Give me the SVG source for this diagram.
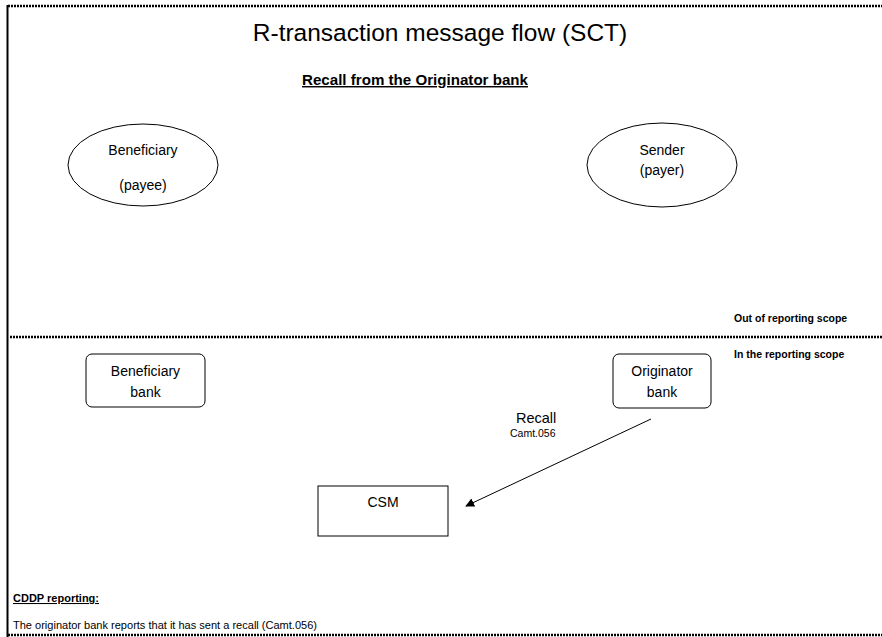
<svg xmlns="http://www.w3.org/2000/svg" width="882" height="637" viewBox="0 0 882 637">
<defs>
<style>
text{font-family:"Liberation Sans",Arial,sans-serif;fill:#000}
.node{fill:#fff;stroke:#000;stroke-width:1}
.lbl{font-size:14px;text-anchor:middle}
.small{font-size:10.5px;font-weight:bold}
.dot{stroke:#000;stroke-width:2.5;stroke-dasharray:2 1;fill:none}
</style>
<marker id="ah" viewBox="0 0 10 10" refX="9" refY="5" markerWidth="9" markerHeight="9" orient="auto" markerUnits="userSpaceOnUse">
<path d="M0,0 L10,5 L0,10 z" fill="#000"/>
</marker>
</defs>
<rect x="0" y="0" width="882" height="637" fill="#fff"/>
<g id="frame">
<line x1="7.5" y1="5" x2="7.5" y2="637" stroke="#000" stroke-width="2"/>
<line class="dot" x1="8" y1="6" x2="882" y2="6" stroke-width="2"/>
<line class="dot" x1="8" y1="635" x2="882" y2="635" stroke-width="2"/>
<line class="dot" x1="10" y1="337" x2="882" y2="337"/>
</g>
<text x="440" y="41" font-size="24.5" text-anchor="middle">R-transaction message flow (SCT)</text>
<text x="415" y="85" font-size="14.5" font-weight="bold" text-anchor="middle" text-decoration="underline" textLength="226" lengthAdjust="spacingAndGlyphs">Recall from the Originator bank</text>
<text class="small" x="734" y="322">Out of reporting scope</text>
<text class="small" x="734" y="358">In the reporting scope</text>
<g id="beneficiary">
<ellipse class="node" cx="143" cy="165" rx="75" ry="41"/>
<text class="lbl" x="143" y="155">Beneficiary</text>
<text class="lbl" x="143" y="190">(payee)</text>
</g>
<g id="sender">
<ellipse class="node" cx="662" cy="165" rx="75" ry="42"/>
<text class="lbl" x="662" y="155">Sender</text>
<text class="lbl" x="662" y="175">(payer)</text>
</g>
<g id="beneficiary-bank">
<rect class="node" x="86" y="354" width="119" height="53" rx="6"/>
<text class="lbl" x="145.5" y="376">Beneficiary</text>
<text class="lbl" x="145.5" y="397">bank</text>
</g>
<g id="originator-bank">
<rect class="node" x="613" y="354" width="98" height="54" rx="6"/>
<text class="lbl" x="662" y="376">Originator</text>
<text class="lbl" x="662" y="397">bank</text>
</g>
<g id="csm">
<rect class="node" x="318" y="486" width="130" height="50"/>
<text class="lbl" x="383" y="507">CSM</text>
</g>
<g id="connectors">
<line x1="651" y1="419" x2="466" y2="506" stroke="#000" stroke-width="1" marker-end="url(#ah)"/>
<text x="516" y="423" font-size="14.5">Recall</text>
<text x="510" y="437" font-size="10.5">Camt.056</text>
</g>
<text x="13" y="602" font-size="10.5" font-weight="bold" text-decoration="underline" textLength="86" lengthAdjust="spacingAndGlyphs">CDDP reporting:</text>
<text x="13" y="629" font-size="10.5" textLength="304" lengthAdjust="spacingAndGlyphs">The originator bank reports that it has sent a recall (Camt.056)</text>
</svg>
